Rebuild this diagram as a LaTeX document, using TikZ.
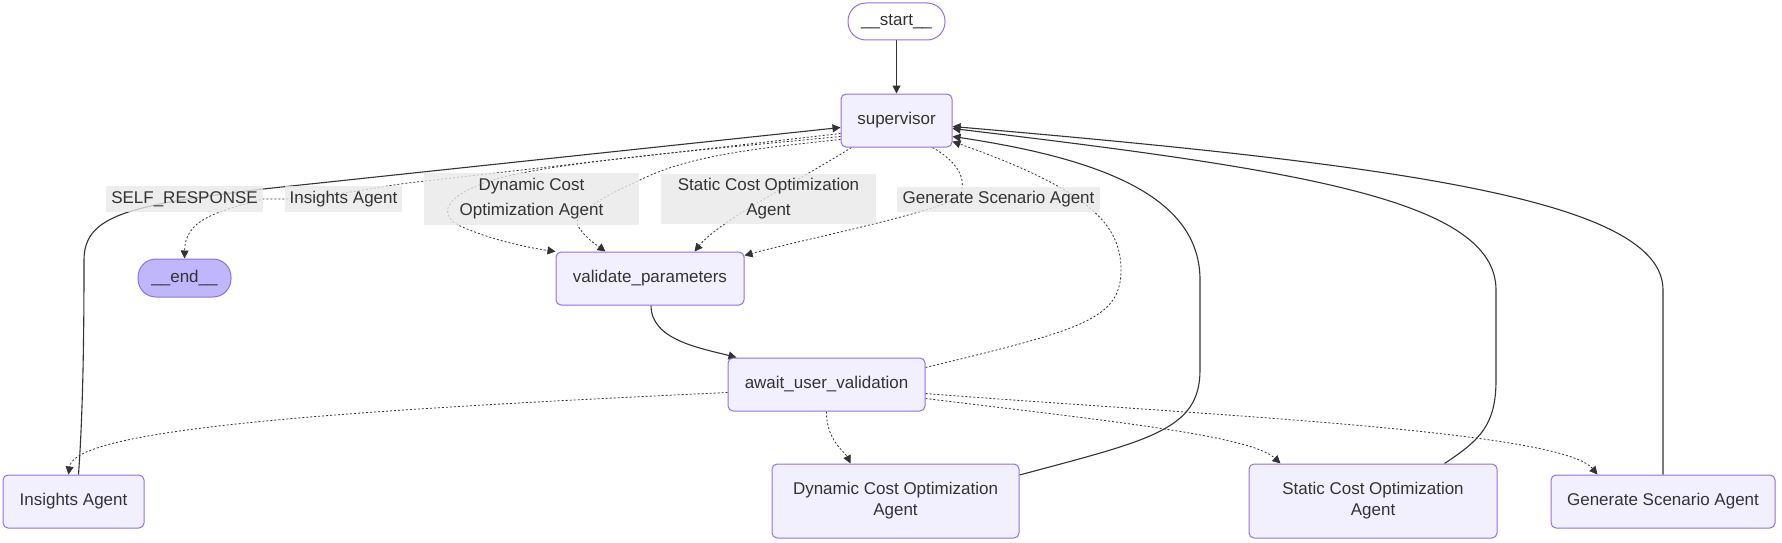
\documentclass[tikz,border=0pt]{standalone}
\usepackage{fontspec}
\setmainfont{Liberation Sans}
\usetikzlibrary{arrows.meta,calc,backgrounds}

\definecolor{nodefill}{HTML}{F2F0FF}
\definecolor{nodeline}{HTML}{9370DB}
\definecolor{endfill}{HTML}{BFB6FC}
\definecolor{lblfill}{HTML}{E8E8E8}
\definecolor{ink}{HTML}{333333}

\tikzset{
  box/.style={draw=nodeline, fill=nodefill, line width=1pt, rounded corners=5pt,
    text=ink, align=center, inner sep=0pt,
    font=\fontsize{17}{21}\selectfont},
  term/.style={box, rounded corners=18pt},
  lbl/.style={fill=lblfill, fill opacity=0.8, text opacity=1, text=ink,
    align=center, inner sep=0pt, font=\fontsize{17}{25}\selectfont},
  flow/.style={draw=ink, line width=1.1pt, -{Triangle[length=8pt,width=8pt]}},
  cond/.style={flow, line width=0.8pt, dash pattern=on 2pt off 2pt}
}

\begin{document}
\begin{tikzpicture}[x=1pt, y=-1pt]
    \useasboundingbox (0,0) rectangle (1782,543);

    % --- Nodes of the graph ---
    \node[term, fill=white, minimum width=97, minimum height=37] (st) at (896.5,21.5) {\_\_start\_\_};
    \node[box, minimum width=111, minimum height=53] (sup) at (896.5,120.5) {supervisor};
    \node[term, fill=endfill, minimum width=93, minimum height=38] (fin) at (184.5,278) {\_\_end\_\_};
    \node[box, minimum width=188, minimum height=53] (val) at (650,278.5) {validate\_parameters};
    \node[box, minimum width=197, minimum height=53] (aw) at (826.5,384.5) {await\_user\_validation};

    % --- Agents on the bottom row ---
    \node[box, minimum width=141, minimum height=53] (ins) at (73.5,501.5) {Insights Agent};
    \node[box, minimum width=247, minimum height=74] (dyn) at (895.5,501) {Dynamic Cost Optimization\\Agent};
    \node[box, minimum width=248, minimum height=74] (sta) at (1373,501) {Static Cost Optimization\\Agent};
    \node[box, minimum width=224, minimum height=53] (gen) at (1663,501.5) {Generate Scenario Agent};

    % --- Edge labels of the routing from supervisor ---
    \node[lbl, minimum width=157, minimum height=26] (lself) at (184.5,199) {SELF\_RESPONSE};
    \node[lbl, minimum width=117, minimum height=26] (lins) at (343.5,199) {Insights Agent};
    \node[lbl, minimum width=215, minimum height=52] (ldyn) at (531.5,199) {Dynamic Cost\\Optimization Agent};
    \node[lbl, minimum width=215, minimum height=50] (lsta) at (768.5,199) {Static Cost Optimization\\Agent};
    \node[lbl, minimum width=203, minimum height=25] (lgen) at (998.5,199.5) {Generate Scenario Agent};

    \begin{scope}[on background layer]
        % --- Fixed edges ---
        \draw[flow] (st.south) -- (sup.north);
        \draw[flow] ($(val.south)+(1,0)$) .. controls (651,340) and (700,348) .. ($(aw.north west)+(9,0)$);

        % --- Conditional edges out of supervisor ---
        \draw[cond] ($(sup.west)+(0,13)$) -- (408,183) .. controls (370,188) and (320,199) .. (lins.west)
            -- (lself.east) .. controls (215,212) and (185,220) .. (fin.north);
        \draw[cond] ($(sup.west)+(0,16)$) .. controls (700,150) and (560,162) .. (500,178)
            .. controls (440,195) and (440,215) .. (458,225) .. controls (490,240) and (530,248) .. (val.north west);
        \draw[cond] ($(sup.west)+(0,19)$) .. controls (760,148) and (690,155) .. (640,180)
            .. controls (600,198) and (572,215) .. (578,226) .. controls (585,238) and (598,246) .. ($(val.north west)+(50,0)$);
        \draw[cond] ($(sup.south west)+(11,0)$) .. controls (800,180) and (720,220) .. ($(val.north east)+(-50,0)$);
        \draw[cond] ($(sup.south east)+(-20,0)$) .. controls (955,160) and (968,178) .. (960,195)
            .. controls (950,210) and (800,240) .. ($(val.north east)+(0,4)$);

        % --- Conditional edges out of await_user_validation ---
        \draw[cond] ($(aw.east)+(0,-17)$) .. controls (1080,330) and (1121,320) .. (1121,270)
            .. controls (1121,225) and (1090,190) .. ($(sup.east)+(0,21)$);
        \draw[cond] ($(aw.west)+(0,8)$) .. controls (350,410) and (75,428) .. ($(ins.north)+(-5,0)$);
        \draw[cond] (aw.south) .. controls (826,440) and (845,452) .. ($(dyn.north west)+(79,0)$);
        \draw[cond] ($(aw.east)+(0,14)$) .. controls (1100,420) and (1250,435) .. ($(sta.north west)+(32,0)$);
        \draw[cond] ($(aw.east)+(0,9)$) .. controls (1200,415) and (1560,430) .. ($(gen.north west)+(47,0)$);

        % --- Agents report back to supervisor ---
        \draw[flow] ($(ins.north)+(5,0)$) .. controls (84,400) and (84,300) .. (84,260)
            .. controls (84,215) and (130,205) .. (263,189) -- ($(sup.west)+(0,7)$);
        \draw[flow] ($(dyn.east)+(0,-26)$) .. controls (1150,440) and (1200,430) .. (1200,370) -- (1200,280)
            .. controls (1200,200) and (1110,160) .. ($(sup.east)+(0,16)$);
        \draw[flow] ($(sta.north east)+(-53,0)$) .. controls (1480,440) and (1496,425) .. (1496,380) -- (1496,290)
            .. controls (1496,200) and (1300,170) .. ($(sup.east)+(0,8)$);
        \draw[flow] (gen.north) -- (1663,290) .. controls (1663,200) and (1400,165) .. ($(sup.east)+(0,6)$);
    \end{scope}
\end{tikzpicture}
\end{document}
